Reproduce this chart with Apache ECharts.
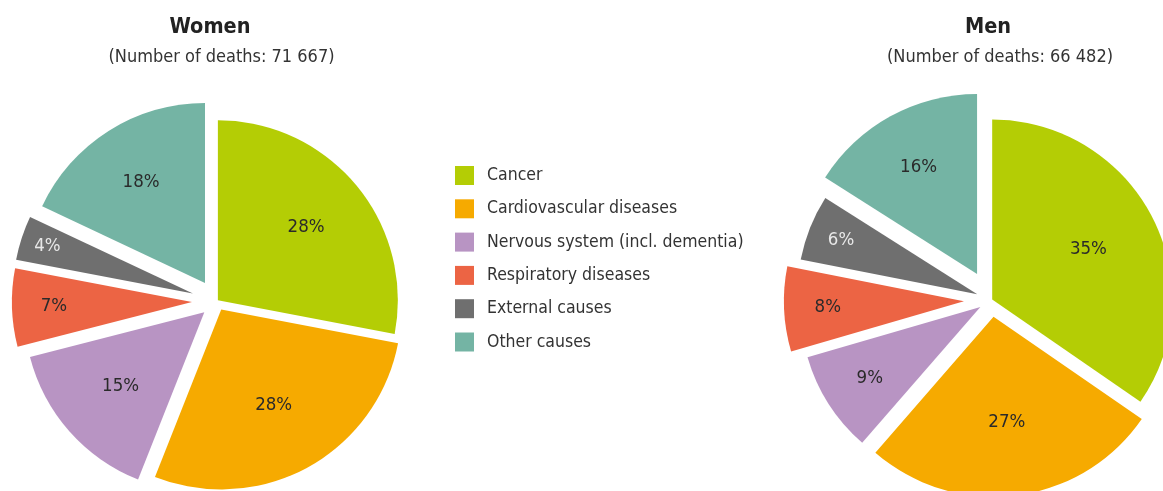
<!DOCTYPE html>
<html>
<head>
<meta charset="utf-8">
<script src="https://cdn.jsdelivr.net/npm/echarts@6/dist/echarts.min.js"></script>
<style>html,body{margin:0;padding:0;background:#fff}#c{width:1163px;height:491px}</style>
</head>
<body>
<div id="c"></div>
<script>
// ---- data ----
const categories = ['Cancer', 'Cardiovascular diseases', 'Nervous system (incl. dementia)', 'Respiratory diseases', 'External causes', 'Other causes'];
const womenShares = [28, 28, 15, 7, 4, 18];
const menShares = [34.6, 26.8, 9.1, 7.6, 5.9, 16.0];
const womenTitle = 'Women';
const menTitle = 'Men';
const womenDeaths = '71 667';
const menDeaths = '66 482';

// ---- style ----
const colors = ['#b4cd05', '#f6aa00', '#b894c3', '#ec6444', '#6f6f6f', '#74b4a4'];
const FONT = "'DejaVu Sans Condensed','Liberation Sans Narrow','Roboto',sans-serif";
const R = 180;
const pies = [
  { values: womenShares, center: [216.7, 301.3], explode: [1.5, 9.4, 16.5, 24.8, 25.0, 21.8], labelDist: [111.5, 105.8, 108.7, 135, 150, 116.4] },
  { values: menShares, center: [991.4, 300], explode: [0.9, 17.0, 13.1, 27.5, 15.2, 29.7], labelDist: [105.7, 103.2, 128.2, 133.3, 143.7, 118.5] }
];

function buildSeries(p) {
  const total = p.values.reduce((a, b) => a + b, 0);
  let cum = 0;
  const out = [];
  p.values.forEach((v, i) => {
    const mid = (cum + v / 2) / total * 2 * Math.PI;
    cum += v;
    const cx = p.center[0] + p.explode[i] * Math.sin(mid);
    const cy = p.center[1] - p.explode[i] * Math.cos(mid);
    const common = {
      type: 'pie', center: [cx, cy], startAngle: 90, clockwise: true, silent: true,
      animation: false, avoidLabelOverlap: false, labelLine: { show: false },
      emphasis: { disabled: true }, minAngle: 0, padAngle: 0
    };
    out.push(Object.assign({}, common, {
      radius: [0, R],
      label: { show: false },
      data: p.values.map((w, j) => ({
        value: w, name: categories[j],
        itemStyle: { color: j === i ? colors[j] : 'rgba(0,0,0,0)', borderWidth: 0 }
      }))
    }));
    out.push(Object.assign({}, common, {
      radius: [0, 2 * p.labelDist[i]],
      z: 5,
      label: {
        position: 'inside',
        formatter: (prm) => Math.round(prm.value) + '%',
        color: i === 4 ? '#e8e8e8' : '#2a2a2a',
        fontSize: 18.5, fontFamily: FONT, fontWeight: 'normal'
      },
      data: p.values.map((w, j) => ({
        value: w, name: categories[j],
        itemStyle: { color: 'rgba(0,0,0,0)', borderWidth: 0 },
        label: { show: j === i }
      }))
    }));
  });
  return out;
}

const chart = echarts.init(document.getElementById('c'), null, { renderer: 'canvas' });
chart.setOption({
  backgroundColor: '#ffffff',
  animation: false,
  title: [
    { text: womenTitle, left: 210, top: 16, textAlign: 'center', padding: 0, textStyle: { fontSize: 21.5, fontWeight: 'bold', color: '#222', fontFamily: FONT } },
    { text: '(Number of deaths: ' + womenDeaths + ')', left: 221.5, top: 48, textAlign: 'center', padding: 0, textStyle: { fontSize: 18, fontWeight: 'normal', color: '#333', fontFamily: FONT } },
    { text: menTitle, left: 988, top: 16, textAlign: 'center', padding: 0, textStyle: { fontSize: 21.5, fontWeight: 'bold', color: '#222', fontFamily: FONT } },
    { text: '(Number of deaths: ' + menDeaths + ')', left: 1000, top: 48, textAlign: 'center', padding: 0, textStyle: { fontSize: 18, fontWeight: 'normal', color: '#333', fontFamily: FONT } }
  ],
  legend: {
    orient: 'vertical', left: 455, top: 166, itemWidth: 19, itemHeight: 19, itemGap: 14.3,
    padding: 0, icon: 'rect', selectedMode: false,
    data: categories.map((n, i) => ({ name: n, itemStyle: { color: colors[i], borderWidth: 0 } })),
    textStyle: { fontSize: 17.5, color: '#333', fontFamily: FONT, padding: [0, 0, 0, 8] }
  },
  series: pies.flatMap(buildSeries)
});
</script>
</body>
</html>
